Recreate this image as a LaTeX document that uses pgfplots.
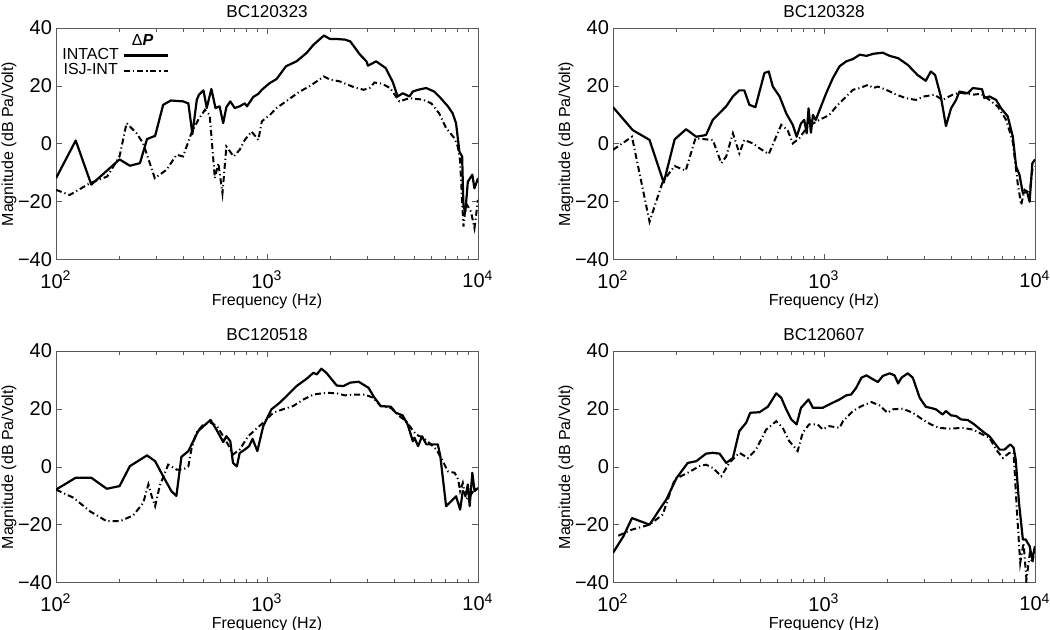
\documentclass[border=0pt]{standalone}
\usepackage{pgfplots}
\pgfplotsset{compat=1.18}
\usepackage{fontspec}
\setmainfont{Liberation Sans}
\pgfplotsset{
  myax/.style={
    scale only axis, width=211pt, height=116pt,
    xmin=100, xmax=10000, ymin=-40, ymax=40,
    xtick={100,1000,10000},
    xticklabels={10\textsuperscript{2},10\textsuperscript{3},10\textsuperscript{4}},
    ytick={-40,-20,0,20,40},
    yticklabels={−40,−20,0,20,40},
    tick align=inside,
    major tick length=3pt, minor tick length=1.8pt,
    axis line style={black!65, line width=0.5pt},
    tick style={black!65, line width=0.5pt},
    tick label style={font=\fontsize{10}{10}\selectfont},
    yticklabel style={xshift=1.5pt},
    xticklabel style={yshift=-2pt},
    title style={at={(axis description cs:0.5,1)},anchor=base,yshift=-0.5pt,font=\fontsize{8.6}{9}\selectfont},
    xlabel style={at={(axis description cs:0.5,0)},anchor=base,yshift=-23pt,font=\fontsize{8}{9}\selectfont},
    ylabel style={at={(axis description cs:0,0.5)},anchor=base,yshift=21.5pt,font=\fontsize{8}{9}\selectfont},
    xlabel={Frequency (Hz)}, ylabel={Magnitude (dB Pa/Volt)},
  },
  intact/.style={black, line width=1.1pt, line join=round},
  isj/.style={black, line width=1pt, dash pattern=on 3pt off 1.5pt on 0.6pt off 1.5pt},
}
\begin{document}
\begin{tikzpicture}
\useasboundingbox (0,0) rectangle (525pt,315pt);
% ---------------- BC120323
\begin{semilogxaxis}[myax, at={(28pt,185pt)}, anchor=south west, title={BC120323},
  legend plot pos=right,
  legend image code/.code={\draw[#1] plot coordinates {(0cm,0cm) (0.4cm,0cm) (0.78cm,0cm)};},
  legend style={draw=none, fill=none, at={(axis description cs:0.0,0.94)}, anchor=north west,
    font=\fontsize{8}{9}\selectfont, row sep=-3.5pt, inner sep=1pt}]
\addplot[intact] coordinates {
(100,-11.8)(124,1.2)(147,-14)(180,-8.3)(200,-5.3)(224,-7.5)(250,-6.6)(270,1.7)(295,2.8)
(322,13.5)(350,15)(400,14.7)(424,14)(443,3.4)(465,15.3)(476,17)(500,18.5)(518,12.4)
(545,19)(570,12.4)(596,13)(620,7.2)(642,12.7)(670,14.7)(703,12.4)(742,13)(785,14)
(804,13)(860,16.2)(910,17.3)(945,18.7)(1030,21)(1110,22.4)(1230,26.8)(1380,28.5)
(1540,31.4)(1660,34.2)(1860,37.4)(1990,36.2)(2140,36.2)(2340,36)(2480,35.4)(2760,30.8)
(2960,28.5)(3010,27)(3290,28.5)(3650,26.2)(3940,21.5)(4160,16.4)(4400,17.5)(4730,16.4)
(4910,18.1)(5200,18.7)(5680,19.3)(6200,18.1)(6660,15.8)(7200,13)(7580,10.6)(7870,7.2)
(8160,-2.6)(8410,-4.3)(8530,-21.6)(8710,-23.3)(8950,-13)(9400,-10.6)(9620,-15.3)(10000,-11.8)
};
\addlegendentry{INTACT}
\addplot[isj] coordinates {
(100,-15.8)(116,-17.6)(145,-13.5)(175,-11.2)(200,-4.3)(216,7.2)(241,3.7)(259,0.2)
(294,-11.8)(334,-8.9)(373,-3.7)(400,-4.3)(438,3.7)(472,8.3)(508,11.8)(535,10)
(566,-11.8)(588,-6.6)(615,-17)(642,-0.9)(695,-4.3)(742,-2)(785,1.4)(845,4.3)(910,1.4)
(945,7.8)(1030,10)(1110,12.4)(1230,14.7)(1430,18.1)(1590,19.9)(1860,23.3)(1990,22.2)
(2210,21.6)(2580,19.6)(2870,18.7)(3070,19.3)(3230,21.2)(3510,20.8)(3830,19.3)(4240,14.7)
(4730,15.8)(5480,15.3)(6010,14)(6540,10.6)(7060,5.5)(7730,2)(8020,-0.9)(8220,-5.5)
(8530,-28.5)(8770,-20.4)(9260,-23.3)(9620,-29)(10000,-19.3)
};
\addlegendentry{ISJ-INT}
\node[font=\fontsize{8}{9}\selectfont, anchor=base] at (axis description cs:0.205,0.925) {Δ\textbf{\textit{P}}};
\end{semilogxaxis}
% ---------------- BC120328
\begin{semilogxaxis}[myax, at={(306.5pt,185pt)}, anchor=south west, title={BC120328}]
\addplot[intact] coordinates {
(100,12.7)(124,4.8)(149,1.4)(174,-13.3)(196,1.6)(222,5.1)(248,2.5)(276,3.1)(297,8.3)
(344,13)(370,16.4)(397,18.5)(419,18.5)(443,13.5)(473,12.7)(522,24.5)(547,25)(572,19.8)
(616,16.4)(662,10.6)(711,6.6)(742,2.5)(778,7.1)(806,8.3)(828,3.7)(845,12.3)(867,3.9)
(886,10)(914,8.3)(967,12.9)(1024,17.5)(1101,22.7)(1185,26.8)(1275,28.5)(1372,29.3)
(1477,30.8)(1589,30.4)(1711,31.1)(1900,31.5)(2045,30.4)(2245,29.6)(2493,27.3)(2774,23.8)
(3035,21.8)(3207,25)(3362,23.8)(3578,16.4)(3784,6.2)(4000,12.3)(4226,15.2)(4384,18.1)
(4802,17.5)(5074,19.3)(5612,18.9)(5757,15.8)(6082,16.4)(6540,15.2)(6910,12.3)(7430,9.5)
(7850,2.5)(8140,-7.8)(8440,-10.6)(8760,-17)(9160,-16.4)(9430,-19.9)(9710,-6.7)(10000,-5.3)
};
\addplot[isj] coordinates {
(100,-2)(123,2.5)(149,-26.8)(172,-13)(196,-7.6)(221,-9.2)(246,2)(276,1.6)(297,1.4)
(326,-6.6)(344,-4.3)(370,3.7)(397,-3.2)(419,1.4)(460,0.2)(495,-1.5)(547,-3.5)(627,6.6)
(672,4.8)(711,0.2)(764,2)(836,6)(950,8.3)(1060,10)(1142,12.9)(1275,16.4)(1372,18.7)
(1477,19.3)(1620,20.4)(1711,19.3)(1800,19.8)(1970,18.7)(2205,17)(2447,15.8)(2724,15.2)
(2983,16.4)(3327,17)(3650,15.2)(4070,17)(4384,17.7)(5074,17)(5552,17.3)(6082,15.2)
(6662,12.9)(7300,8.3)(7850,0.8)(8280,-13.6)(8600,-21)(8920,-15.8)(9430,-17)(9710,-9)(10000,-7.8)
};
\end{semilogxaxis}
% ---------------- BC120518
\begin{semilogxaxis}[myax, at={(28pt,23.5pt)}, anchor=south west, title={BC120518}]
\addplot[intact] coordinates {
(100,-7.8)(124,-3.7)(147,-3.7)(174,-7.5)(200,-6.6)(224,0.3)(270,4)(295,2)(322,-3.2)
(352,-8.3)(372,-10)(393,3.5)(424,5.5)(447,8.9)(472,12.4)(500,14.1)(540,16.2)(576,12.9)
(620,8.6)(642,10.6)(670,8.9)(690,1.4)(720,0.2)(742,4.8)(785,6)(823,7.2)(854,9.7)(900,5.5)
(960,14.1)(1050,19.9)(1150,22.2)(1260,25)(1380,27.9)(1540,30.4)(1660,32.5)(1720,31.9)
(1810,33.9)(1910,32.5)(2140,28.1)(2300,27.9)(2480,29.1)(2720,29.4)(3030,27.3)(3210,24.2)
(3460,21)(3860,20.8)(4080,18.7)(4390,17.8)(4640,14.7)(4910,8.9)(5000,10.1)(5200,7.2)
(5430,10.6)(5690,7.8)(6060,7.8)(6450,7.8)(6630,3.7)(7060,-13.5)(7460,-11.8)(7870,-10.1)
(8230,-14.7)(8470,-8.3)(8770,-9.5)(8950,-6)(9130,-13.5)(9400,-2)(9630,-8.3)(10000,-7.2)
};
\addplot[isj] coordinates {
(100,-7.8)(121,-10.6)(145,-15.3)(174,-18.7)(201,-18.7)(232,-16.7)(259,-12.4)(274,-6)
(284,-10)(295,-13.5)(310,-6.6)(340,0.8)(373,-0.9)(400,-0.9)(424,0.2)(438,6)(462,11.8)
(500,14.7)(540,15.3)(580,14.1)(620,10.6)(653,7.8)(690,4.3)(742,6)(814,10.6)(884,13)
(960,15.3)(1070,18.7)(1190,19.9)(1330,21)(1490,23.3)(1660,25)(1910,25.6)(2140,25.4)
(2340,24.7)(2560,25)(2900,25)(3180,23.9)(3460,21)(3860,20.4)(4230,17.6)(4560,15.8)
(5080,11.2)(5490,10.1)(5880,8.3)(6360,6)(6880,1.4)(7200,-1.5)(7750,-2)(8050,-4.3)
(8230,-8.3)(8470,-5.5)(8770,-11.2)(9260,-9.5)(9630,-7.8)(10000,-8.9)
};
\end{semilogxaxis}
% ---------------- BC120607
\begin{semilogxaxis}[myax, at={(306.5pt,23.5pt)}, anchor=south west, title={BC120607}]
\addplot[intact] coordinates {
(100,-29.6)(112,-23.9)(123,-17.6)(149,-19.9)(166,-14.7)(179,-11.2)(200,-3.8)(226,1.4)
(248,2)(276,4.6)(297,4.9)(320,4.6)(344,1.4)(370,3.1)(397,12.4)(428,15.3)(447,18.7)
(495,18.9)(542,20.8)(594,25.4)(627,23.9)(662,19.9)(700,16.4)(742,14.7)(778,20.4)
(845,23.3)(886,20.4)(985,20.4)(1060,21.6)(1185,23.3)(1275,24.7)(1345,25)(1420,27.3)
(1505,30.8)(1589,31.6)(1711,30.2)(1800,29.3)(1900,31.4)(2045,32.3)(2160,31.6)(2245,28.8)
(2330,30.8)(2493,32.3)(2635,30.8)(2840,23.9)(3035,20.8)(3390,19.9)(3650,18.1)(3784,19.3)
(4000,17.8)(4226,17.6)(4460,16.4)(4802,16.2)(5150,14.7)(5757,11.8)(6082,10.6)(6430,8.3)
(6790,6)(7170,6)(7640,7.8)(7920,6.6)(8100,2.6)(8400,-12.4)(8760,-25)(9030,-25)(9430,-27.3)
(9710,-31.9)(10000,-27.3)
};
\addplot[isj] coordinates {
(106,-23.7)(123,-21.6)(149,-19.9)(172,-16.4)(196,-4.3)(226,-2)(257,0.3)(276,0.8)(297,-0.3)
(326,-3.2)(356,1.4)(397,4.9)(436,3.1)(476,6)(532,12.9)(594,15.8)(637,13.5)(685,8.9)
(750,5.5)(793,11.8)(850,14.7)(932,14.7)(985,13)(1060,14.1)(1185,13.5)(1230,15.8)
(1372,19.3)(1505,21)(1680,22.4)(1835,21.2)(2000,18.7)(2120,19.9)(2360,20.1)(2635,18.7)
(2930,16.4)(3207,14.7)(3510,13.5)(3930,13.2)(4540,13.5)(5074,12.9)(5650,11.2)(6082,10.1)
(6540,6)(7040,3.1)(7570,4.9)(7920,4.9)(8200,-14.7)(8510,-33.1)(8820,-26.2)(9110,-38.8)
(9430,-30.2)(9710,-33.1)(10000,-27.9)
};
\end{semilogxaxis}
\end{tikzpicture}
\end{document}
